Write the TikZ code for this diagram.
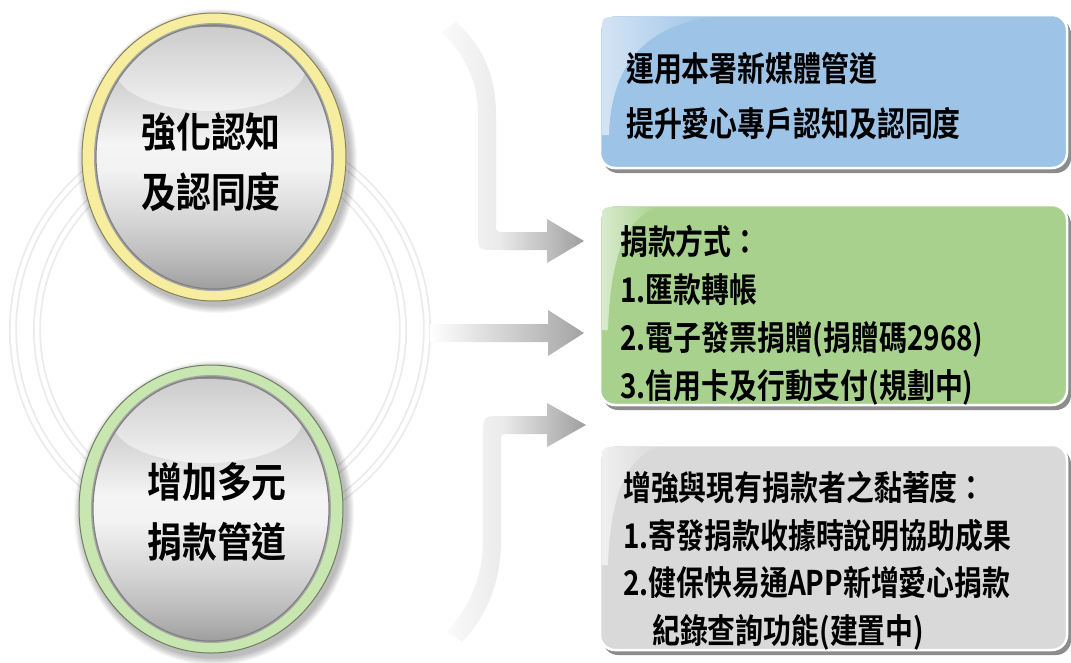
\documentclass[tikz,border=0pt]{standalone}
\usepackage{fontspec}
\newfontfamily\cjkbox[FakeStretch=0.82,BoldFont={Noto Sans CJK TC Bold}]{Noto Sans CJK TC}
\newfontfamily\cjksph[FakeStretch=0.85,BoldFont={Noto Sans CJK TC Bold}]{Noto Sans CJK TC}
\definecolor{boxblue}{HTML}{9DC3E6}
\definecolor{boxgreen}{HTML}{A9D18E}
\definecolor{boxgrey}{HTML}{D9D9D9}
\definecolor{ringyellow}{HTML}{F6EE9E}
\definecolor{ringgreen}{HTML}{C8E6B0}
\pgfdeclareverticalshading{spheregrad}{100bp}{%
 rgb(0bp)=(0.62,0.62,0.62); rgb(25bp)=(0.62,0.62,0.62);
 rgb(30bp)=(0.72,0.72,0.72); rgb(37.5bp)=(0.83,0.83,0.83);
 rgb(47.5bp)=(0.95,0.95,0.95); rgb(52.5bp)=(0.96,0.96,0.96);
 rgb(60bp)=(0.87,0.87,0.87); rgb(70bp)=(0.75,0.75,0.75);
 rgb(75bp)=(0.55,0.55,0.55); rgb(100bp)=(0.55,0.55,0.55)}
\pgfdeclarehorizontalshading{arrowgrad}{100bp}{%
 color(0bp)=(black!2); color(25bp)=(black!2); color(45bp)=(black!8);
 color(75bp)=(black!38); color(100bp)=(black!38)}
\tikzset{
 boxtext/.style={font=\cjkbox\bfseries\fontsize{34}{48}\selectfont, align=left, inner sep=0pt, anchor=west, text=black},
 spheretext/.style={font=\cjksph\bfseries\fontsize{41}{60}\selectfont, align=center, inner sep=0pt, text=black},
 bgring/.style={draw=black!8, line width=8pt},
 bgringin/.style={draw=white, line width=4.5pt},
 boxshadow/.style={fill=black!45, rounded corners=15pt},
 boxbody/.style={draw=white, line width=2.5pt, rounded corners=15pt},
 arrowshade/.style={shading=arrowgrad},
}
\newcommand{\drawball}[3]{%
 \begin{scope}[shift={(#1,#2)}]
  \foreach \k in {1,...,8} \fill[black, opacity=0.035] (3,4) ellipse [x radius=132+\k, y radius=144+\k];
  \fill[#3] (0,0) ellipse [x radius=132, y radius=144];
  \draw[#3!55!black, line width=1pt] (0,0) ellipse [x radius=132, y radius=144];
  \fill[black!35] (0,0) ellipse [x radius=120, y radius=134];
  \shade[shading=spheregrad] (0,0) ellipse [x radius=118, y radius=132];
  \begin{scope}
   \clip (0,0) ellipse [x radius=118, y radius=132];
   \shade[top color=black!20, bottom color=black!5] (-4,-88) ellipse [x radius=95, y radius=42];
  \end{scope}
  \draw[black!50, line width=1.2pt] (0,0) ellipse [x radius=118, y radius=132];
 \end{scope}}
\begin{document}
\begin{tikzpicture}[x=1pt,y=-1pt]
\useasboundingbox (0,0) rectangle (1071,662);
\clip (0,0) rectangle (1071,662);
\fill[white] (0,0) rectangle (1071,662);
% background rings
\draw[bgring] (220,330) circle [radius=207];
\draw[bgringin] (220,330) circle [radius=207];
\draw[bgring] (220,330) circle [radius=183];
\draw[bgringin] (220,330) circle [radius=183];
% spheres
\drawball{214}{157}{ringyellow}
\drawball{211}{509}{ringgreen}
\node[spheretext] (s1) at (211,162) {強化認知\\及認同度};
\node[spheretext] (s2) at (217,512) {增加多元\\捐款管道};
% arrows
\shade[arrowshade]
 (442,32) .. controls (465,55) and (478,82) .. (478,115) -- (478,232)
 .. controls (478,250) .. (496,250) -- (547,250) -- (547,263) -- (584,241)
 -- (547,219) -- (547,232) -- (504,232) .. controls (496,232) .. (496,224)
 -- (496,115) .. controls (496,75) and (482,45) .. (456,22) -- cycle;
\shade[left color=white, right color=black!36]
 (430,324) -- (548,324) -- (548,310) -- (584,333) -- (548,356) -- (548,342) -- (430,342) -- cycle;
\shade[arrowshade]
 (447,632) .. controls (473,603) and (483,572) .. (483,540) -- (483,436)
 .. controls (483,416) .. (503,416) -- (547,416) -- (547,403) -- (586,425)
 -- (547,447) -- (547,434) -- (509,434) .. controls (501,434) .. (501,442)
 -- (501,540) .. controls (501,580) and (488,615) .. (462,642) -- cycle;
% boxes
\fill[boxshadow] (603,19) rectangle (1071,173);
\filldraw[boxbody, fill=boxblue] (600,15) rectangle (1067,168);
\shade[left color=white!55!boxblue, right color=boxblue]
 (609,135) .. controls (611,60) and (650,24) .. (715,17) -- (617,17) .. controls (602,17) .. (602,32) -- (602,135) -- cycle;
\fill[boxshadow] (603,209) rectangle (1071,410);
\filldraw[boxbody, fill=boxgreen] (600,205) rectangle (1067,405);
\shade[left color=white!55!boxgreen, right color=boxgreen]
 (608,330) .. controls (610,260) and (625,215) .. (660,207) -- (617,207) .. controls (602,207) .. (602,222) -- (602,330) -- cycle;
\fill[boxshadow] (603,449) rectangle (1071,655);
\filldraw[boxbody, fill=boxgrey] (600,445) rectangle (1067,650);
\shade[left color=white!60!boxgrey, right color=boxgrey]
 (608,565) .. controls (610,500) and (625,455) .. (660,447) -- (617,447) .. controls (602,447) .. (602,462) -- (602,565) -- cycle;
% box texts
\node[boxtext, font=\cjkbox\bfseries\fontsize{34}{55}\selectfont] (t1) at (626,96) {運用本署新媒體管道\\提升愛心專戶認知及認同度};
\node[boxtext] (t2) at (620,315) {捐款方式：\\1.匯款轉帳\\2.電子發票捐贈(捐贈碼2968)\\3.信用卡及行動支付(規劃中)};
\node[boxtext, font=\cjkbox\bfseries\fontsize{34}{47.5}\selectfont] (t3) at (623,561) {增強與現有捐款者之黏著度：\\1.寄發捐款收據時說明協助成果\\2.健保快易通APP新增愛心捐款\\\hspace*{29pt}紀錄查詢功能(建置中)};
\end{tikzpicture}
\end{document}
